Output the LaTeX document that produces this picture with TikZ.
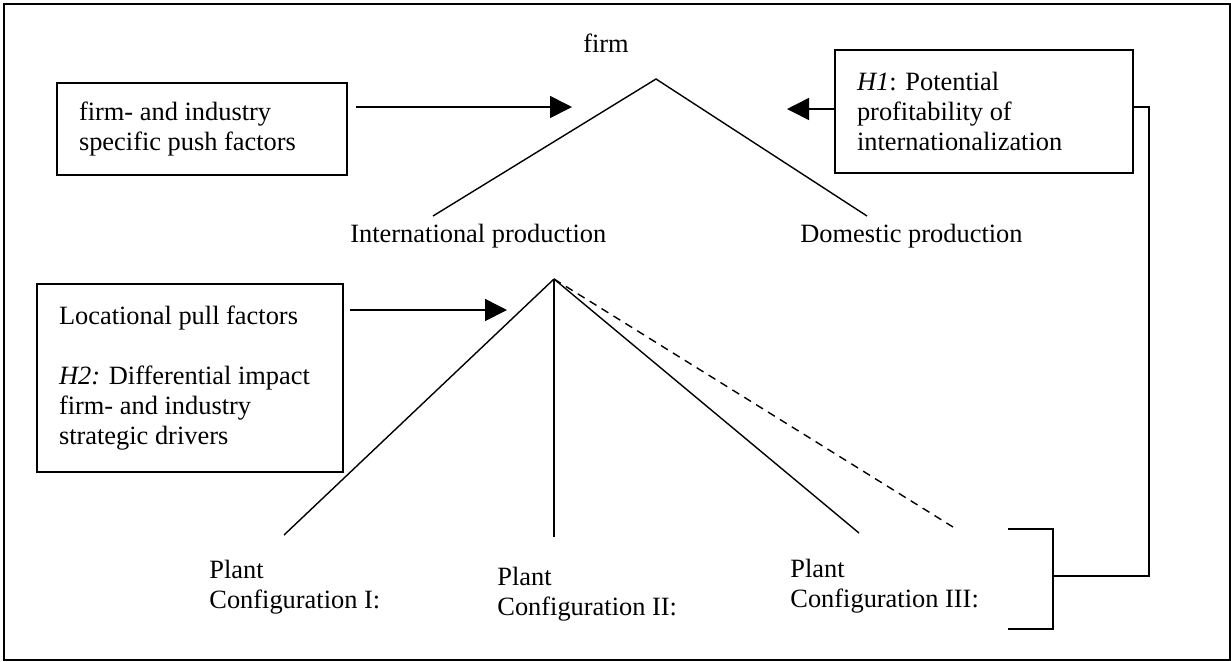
\documentclass[tikz,border=0pt]{standalone}
\usepackage{fontspec}
\setmainfont{Liberation Serif}
\usetikzlibrary{arrows.meta}

\begin{document}
\begin{tikzpicture}[
    x=0.5pt, y=-0.5pt,
    every node/.style={font=\fontsize{13.2pt}{15pt}\selectfont},
    factor/.style={draw, line width=0.9pt, align=flush left, inner xsep=11pt},
    plain/.style={inner sep=0pt, anchor=base west, align=flush left},
    branch/.style={line width=0.7pt},
    push/.style={-{Triangle[length=11pt,width=11pt]}, line width=0.8pt}
]
    \useasboundingbox (0,0) rectangle (1231,661);
    \draw[line width=0.9pt] (4,4) rectangle (1230,660);

    % Factor boxes
    \node[factor, text width=123pt, minimum height=46pt] (pushbox) at (202,129)
        {firm- and industry\\specific push factors};
    \node[factor, text width=127pt, minimum height=61.5pt] (h1box) at (984,111.5)
        {\textit{H1}: Potential\\profitability of\\internationalization};
    \node[factor, text width=131pt, minimum height=94pt] (pullbox) at (190,378)
        {Locational pull factors\\[15pt]\textit{H2:} Differential impact\\firm- and industry\\strategic drivers};

    % Labels of the tree (base = last line)
    \node[plain, anchor=base] (firm) at (606,52) {firm};
    \node[plain] (intlprod) at (350,242) {International production};
    \node[plain] (domprod) at (800,242) {Domestic production};
    \node[plain] (cfgIlbl) at (209,608) {Plant\\Configuration I:};
    \node[plain] (cfgIIlbl) at (497,615) {Plant\\Configuration II:};
    \node[plain] (cfgIIIlbl) at (790,607) {Plant\\Configuration III:};

    % Branch points
    \coordinate (firmtop) at (656,79);
    \coordinate (intl) at (433,216);
    \coordinate (dom) at (867,216);
    \coordinate (plant) at (554,279);
    \coordinate (cfgI) at (284,535);
    \coordinate (cfgII) at (554,537);
    \coordinate (cfgIII) at (859,533);
    \coordinate (cfgIV) at (953,527);

    \draw[branch] (intl) -- (firmtop) -- (dom);
    \draw[branch] (plant) -- (cfgI);
    \draw[branch] (plant) -- (cfgII);
    \draw[branch] (plant) -- (cfgIII);
    \draw[branch, dash pattern=on 4pt off 3pt] (plant) -- (cfgIV);

    % Arrows from the factors
    \coordinate (pushtip) at (572,107);
    \coordinate (h1tip) at (787,109);
    \coordinate (pulltip) at (507,310);
    \draw[push] ([xshift=4pt]pushbox.east |- pushtip) -- (pushtip);
    \draw[push] (h1box.west |- h1tip) -- (h1tip);
    \draw[push] ([xshift=3pt]pullbox.east |- pulltip) -- (pulltip);

    % Feedback bracket
    \coordinate (fb) at (1149,107);
    \coordinate (bracket) at (1053,576);
    \coordinate (brtop) at (1008,529);
    \coordinate (brbot) at (1008,629);
    \draw[branch] (h1box.east |- fb) -- (fb) |- (bracket);
    \draw[branch] (brtop) -- (bracket |- brtop) -- (bracket |- brbot) -- (brbot);
\end{tikzpicture}
\end{document}
